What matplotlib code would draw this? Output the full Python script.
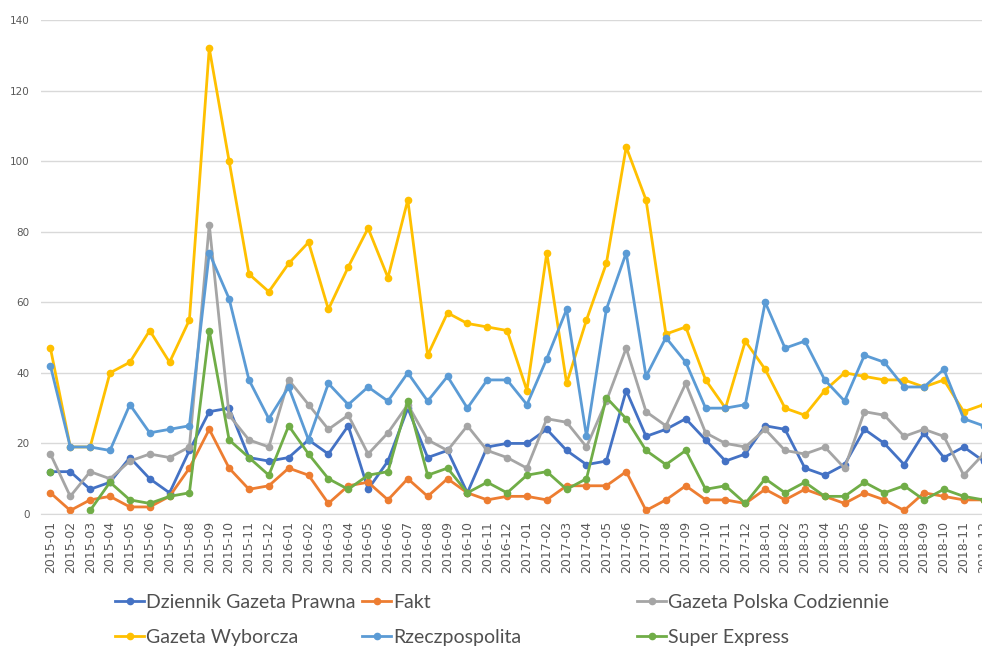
import numpy as np
import matplotlib
matplotlib.use('Agg')
from matplotlib import pyplot as plt

# months 2015-01 .. 2018-12
months = [f'{y}-{m:02d}' for y in range(2015, 2019) for m in range(1, 13)]

dgp = [12, 12, 7, 9, 16, 10, 6, 18, 29, 30, 16, 15,
       16, 21, 17, 25, 7, 15, 30, 16, 18, 6, 19, 20,
       20, 24, 18, 14, 15, 35, 22, 24, 27, 21, 15, 17,
       25, 24, 13, 11, 14, 24, 20, 14, 23, 16, 19, 15]
fakt = [6, 1, 4, 5, 2, 2, 5, 13, 24, 13, 7, 8,
        13, 11, 3, 8, 9, 4, 10, 5, 10, 6, 4, 5,
        5, 4, 8, 8, 8, 12, 1, 4, 8, 4, 4, 3,
        7, 4, 7, 5, 3, 6, 4, 1, 6, 5, 4, 4]
gpc = [17, 5, 12, 10, 15, 17, 16, 19, 82, 28, 21, 19,
       38, 31, 24, 28, 17, 23, 31, 21, 18, 25, 18, 16,
       13, 27, 26, 19, 32, 47, 29, 25, 37, 23, 20, 19,
       24, 18, 17, 19, 13, 29, 28, 22, 24, 22, 11, 17]
gw = [47, 19, 19, 40, 43, 52, 43, 55, 132, 100, 68, 63,
      71, 77, 58, 70, 81, 67, 89, 45, 57, 54, 53, 52,
      35, 74, 37, 55, 71, 104, 89, 51, 53, 38, 30, 49,
      41, 30, 28, 35, 40, 39, 38, 38, 36, 38, 29, 31]
rz = [42, 19, 19, 18, 31, 23, 24, 25, 74, 61, 38, 27,
      36, 21, 37, 31, 36, 32, 40, 32, 39, 30, 38, 38,
      31, 44, 58, 22, 58, 74, 39, 50, 43, 30, 30, 31,
      60, 47, 49, 38, 32, 45, 43, 36, 36, 41, 27, 25]
se = [12, np.nan, 1, 9, 4, 3, 5, 6, 52, 21, 16, 11,
      25, 17, 10, 7, 11, 12, 32, 11, 13, 6, 9, 6,
      11, 12, 7, 10, 33, 27, 18, 14, 18, 7, 8, 3,
      10, 6, 9, 5, 5, 9, 6, 8, 4, 7, 5, 4]

names = ['Dziennik Gazeta Prawna', 'Fakt', 'Gazeta Polska Codziennie',
         'Gazeta Wyborcza', 'Rzeczpospolita', 'Super Express']
series = [dgp, fakt, gpc, gw, rz, se]
colors = ['#4472C4', '#ED7D31', '#A5A5A5', '#FFC000', '#5B9BD5', '#70AD47']

fig = plt.figure(figsize=(9.82, 6.47), dpi=100)
ax = fig.add_axes([40.5 / 982, (647 - 514) / 647, 953 / 982, 494 / 647])

x = np.arange(len(months))
handles = []
for vals, name, col in zip(series, names, colors):
    h, = ax.plot(x, vals, color=col, lw=2.0, marker='o', ms=4.5,
                 label=name, solid_joinstyle='round')
    handles.append(h)

ax.set_xlim(-0.5, len(months) - 0.5)
ax.set_ylim(0, 140)
ax.set_yticks(range(0, 141, 20))
ax.set_xticks(x)
ax.set_xticklabels(months, rotation=90, fontsize=9, color='#595959')
ax.tick_params(axis='y', labelsize=7.5, labelcolor='#595959', length=0, pad=8)
ax.tick_params(axis='x', length=0, pad=5)
ax.grid(axis='y', color='#D9D9D9', lw=1)
ax.set_axisbelow(True)
for s in ['top', 'right', 'left']:
    ax.spines[s].set_visible(False)
ax.spines['bottom'].set_color('#D9D9D9')

# legend: three fixed-width columns, two rows
col_x = [115, 362, 637]
for i, cx in enumerate(col_x):
    hs = [handles[i], handles[i + 3]]
    leg = fig.legend(hs, [h.get_label() for h in hs], loc='center left',
                     bbox_to_anchor=(cx / 982, (647 - 620) / 647),
                     frameon=False, handlelength=1.5,
                     handletextpad=0.1, labelspacing=0.9, borderpad=0,
                     borderaxespad=0, prop={'family': 'Lato', 'size': 14})
    for t in leg.get_texts():
        t.set_color('#505050')

fig.savefig('out.png', dpi=100)
